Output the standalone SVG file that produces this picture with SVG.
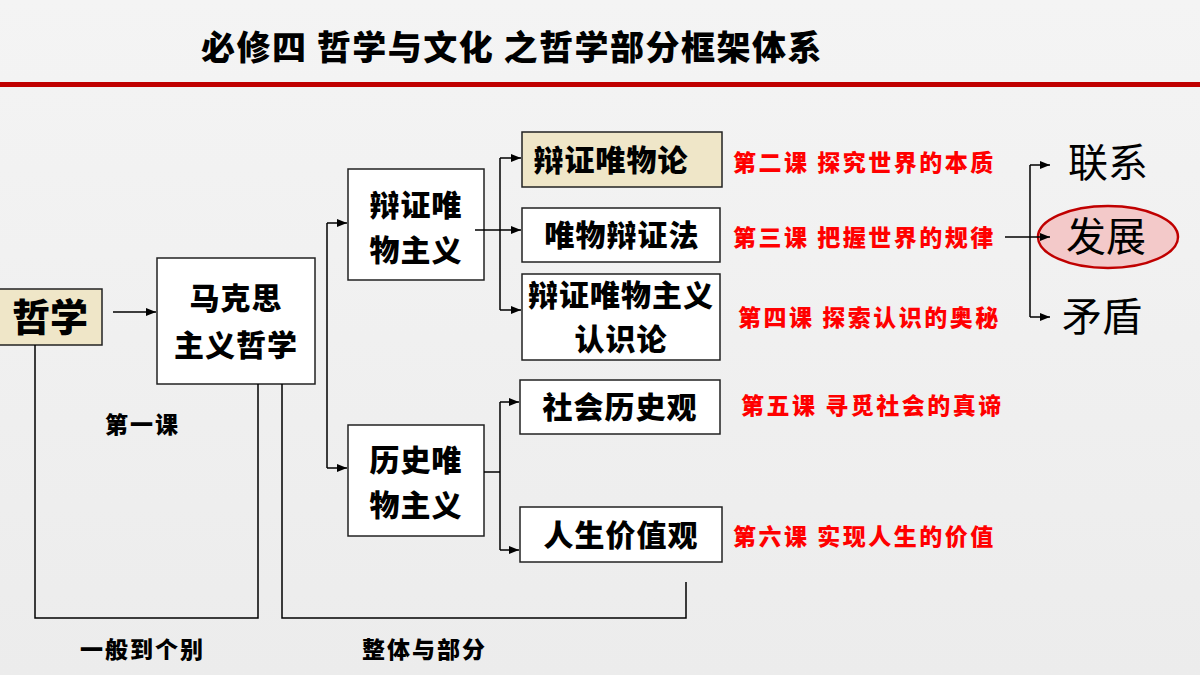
<svg xmlns="http://www.w3.org/2000/svg" width="1200" height="675" viewBox="0 0 1200 675">
<defs>
<marker id="a" viewBox="0 0 10 10" refX="10" refY="5" markerWidth="7" markerHeight="7" orient="auto"><path d="M0,1 L10,5 L0,9 z" fill="#000"/></marker>
<linearGradient id="bg" x1="0" y1="0" x2="0" y2="1"><stop offset="0" stop-color="#f4f4f4"/><stop offset="1" stop-color="#ececec"/></linearGradient>
</defs>
<style>
text{font-family:"Noto Sans CJK SC","Noto Sans",sans-serif}
.b{font-weight:900;fill:#000}
.box{fill:#fff;stroke:#222;stroke-width:1.5}
.beige{fill:#efe6c8;stroke:#222;stroke-width:1.5}
.n{font-size:30px;text-anchor:middle;letter-spacing:1px}
.r{font-size:23px;font-weight:900;fill:#f00;letter-spacing:2.5px}
.s{font-size:23px;letter-spacing:2px}
.big{font-size:40px;fill:#000}
.c path,.c line,.c polyline{stroke:#000;stroke-width:1.5;fill:none}
</style>
<rect width="1200" height="675" fill="url(#bg)"/>
<text x="512" y="60" class="b" font-size="34" letter-spacing="1.5" text-anchor="middle">必修四 哲学与文化 之哲学部分框架体系</text>
<rect x="0" y="82" width="1200" height="5" fill="#c00000"/>

<g id="n-zhexue"><rect class="beige" x="-2" y="289" width="104" height="56"/><text class="b" x="50" y="331" font-size="38" text-anchor="middle">哲学</text></g>
<g id="n-mks"><rect class="box" x="157" y="258" width="158" height="126"/><text class="b n" x="236" y="309">马克思</text><text class="b n" x="236" y="356">主义哲学</text></g>
<g id="n-bzwwzy"><rect class="box" x="348" y="169" width="136" height="111"/><text class="b n" x="416" y="216">辩证唯</text><text class="b n" x="416" y="261">物主义</text></g>
<g id="n-lswwzy"><rect class="box" x="348" y="425" width="136" height="111"/><text class="b n" x="416" y="471">历史唯</text><text class="b n" x="416" y="516">物主义</text></g>
<g id="n-bzwwl"><rect class="beige" x="522" y="132" width="200" height="55"/><text class="b n" x="611" y="171">辩证唯物论</text></g>
<g id="n-wwbzf"><rect class="box" x="522" y="208" width="198" height="54"/><text class="b n" x="622" y="246">唯物辩证法</text></g>
<g id="n-rsl"><rect class="box" x="522" y="274" width="198" height="86"/><text class="b n" x="621" y="306">辩证唯物主义</text><text class="b n" x="621" y="350">认识论</text></g>
<g id="n-shlsg"><rect class="box" x="520" y="380" width="200" height="54"/><text class="b n" x="620" y="418">社会历史观</text></g>
<g id="n-rsjzg"><rect class="box" x="520" y="507" width="202" height="55"/><text class="b n" x="621" y="546">人生价值观</text></g>

<g id="labels">
<text class="r" x="733" y="171">第二课 探究世界的本质</text>
<text class="r" x="733" y="246">第三课 把握世界的规律</text>
<text class="r" x="738" y="326">第四课 探索认识的奥秘</text>
<text class="r" x="741" y="414">第五课 寻觅社会的真谛</text>
<text class="r" x="733" y="545">第六课 实现人生的价值</text>
<text class="b s" x="105" y="433">第一课</text>
<text class="b s" x="80" y="658">一般到个别</text>
<text class="b s" x="362" y="658">整体与部分</text>
</g>
<g id="n-lianxi"><text class="big" x="1068" y="177">联系</text></g>
<g id="n-fazhan"><ellipse cx="1108" cy="237" rx="70" ry="31" fill="#f3c9c9" stroke="#c00000" stroke-width="2.5"/><text class="big" x="1066" y="251">发展</text></g>
<g id="n-maodun"><text class="big" x="1062" y="331">矛盾</text></g>

<g class="c">
<line x1="113" y1="312" x2="156" y2="312" marker-end="url(#a)"/>
<line x1="327" y1="223" x2="327" y2="468"/>
<line x1="327" y1="223" x2="347" y2="223" marker-end="url(#a)"/>
<line x1="327" y1="468" x2="347" y2="468" marker-end="url(#a)"/>
<line x1="475" y1="230" x2="521" y2="230" marker-end="url(#a)"/>
<line x1="500" y1="158" x2="500" y2="310"/>
<line x1="500" y1="158" x2="521" y2="158" marker-end="url(#a)"/>
<line x1="500" y1="310" x2="521" y2="310" marker-end="url(#a)"/>
<line x1="484" y1="472" x2="500" y2="472"/>
<line x1="500" y1="402" x2="500" y2="550"/>
<line x1="500" y1="402" x2="519" y2="402" marker-end="url(#a)"/>
<line x1="500" y1="550" x2="519" y2="550" marker-end="url(#a)"/>
<line x1="1005" y1="237" x2="1050" y2="237" marker-end="url(#a)"/>
<line x1="1030" y1="165" x2="1030" y2="317"/>
<line x1="1030" y1="165" x2="1050" y2="165" marker-end="url(#a)"/>
<line x1="1030" y1="317" x2="1050" y2="317" marker-end="url(#a)"/>
<polyline points="35,345 35,618 258,618 258,384"/>
<polyline points="282,384 282,618 686,618 686,582"/>
</g>
</svg>
